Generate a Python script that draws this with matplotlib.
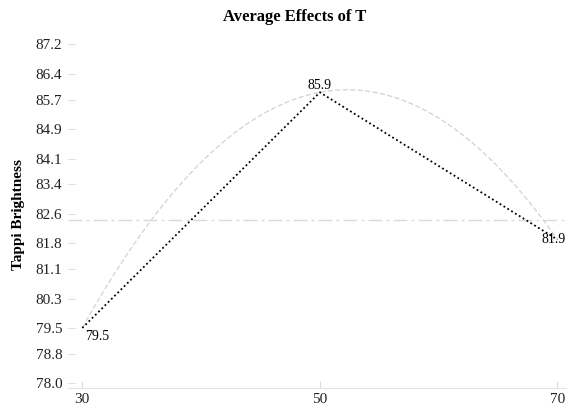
import numpy as np
import matplotlib.pyplot as plt

# factor levels of T and mean Tappi brightness at each level
levels = [30, 50, 70]
means = [79.5, 85.9, 81.9]
level_labels = ["30", "50", "70"]
y_ticks = [78.0, 78.8, 79.5, 80.3, 81.1, 81.8, 82.6, 83.4, 84.1, 84.9, 85.7, 86.4, 87.2]

plt.rcParams["font.family"] = ["Liberation Serif", "DejaVu Serif"]

fig = plt.figure(figsize=(5.67, 4.08), dpi=100)
ax = fig.add_axes([0.12, 0.05, 0.88, 0.85])

grand_mean = np.mean(means)

# quadratic fit through the level means
coef = np.polyfit(levels, means, 2)
xs = np.linspace(levels[0], levels[-1], 200)
ax.plot(xs, np.polyval(coef, xs), color="#d2d2d2", lw=0.9, ls=(0, (4, 2)))

# grand mean reference line
ax.axhline(grand_mean, color="#dadada", lw=1.0, ls=(0, (10, 3, 2, 3)))

ax.plot(levels, means, color="black", lw=1.3, ls=(0, (1, 1.5)))

ax.text(levels[0] + 0.2, means[0] - 0.05, f"{means[0]:.1f}", fontsize=10, ha="left", va="top")
ax.text(levels[1], means[1] + 0.0, f"{means[1]:.1f}", fontsize=10, ha="center", va="bottom")
ax.text(levels[2] + 0.7, means[2], f"{means[2]:.1f}", fontsize=10, ha="right", va="center")

ax.set_xlim(28.8, 70.8)
ax.set_ylim(78.0 - 0.12, 87.2 + 0.1)
ax.set_xticks(levels)
ax.set_xticklabels(level_labels)
ax.set_yticks(y_ticks)
ax.set_yticklabels([f"{v:.1f}" for v in y_ticks])
ax.tick_params(direction="in", length=5, color="#dcdcdc", labelsize=11, labelcolor="#222222", pad=4)

for side in ["top", "right", "left"]:
    ax.spines[side].set_visible(False)
ax.spines["bottom"].set_color("#e4e4e4")

ax.set_title("Average Effects of T", fontsize=12, fontweight="bold", pad=14, x=0.455)
ax.set_ylabel("Tappi Brightness", fontsize=11, fontweight="bold", labelpad=8)

fig.savefig("out.png", dpi=100)
